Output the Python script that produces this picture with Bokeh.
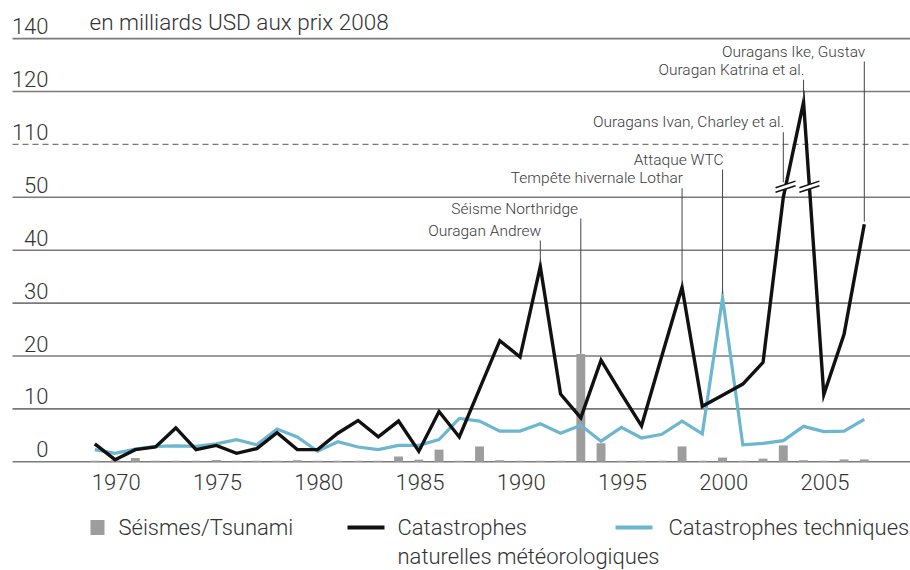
from bokeh.plotting import figure
from bokeh.models import Range1d
from bokeh.core.properties import value
from bokeh.embed import file_html
from bokeh.resources import INLINE

# ---------------- data (billions USD, 2008 prices) ----------------
years = list(range(1970, 2009))
weather = [3.4, 0.4, 2.3, 2.8, 6.4, 2.3, 3.1, 1.6, 2.5, 5.5,
           2.3, 2.3, 5.4, 7.8, 4.7, 7.7, 2.0, 9.5, 4.7, 13.8,
           22.9, 19.8, 36.9, 12.8, 8.3, 19.2, 12.9, 6.8, 20.0, 33.0,
           10.5, 12.6, 14.7, 18.8, 50.0, 118.0, 12.7, 24.1, 44.9]
technical = [2.3, 1.6, 2.4, 2.9, 3.0, 2.9, 3.4, 4.2, 3.2, 6.2,
             4.7, 2.0, 3.8, 2.8, 2.3, 3.1, 3.1, 4.2, 8.2, 7.7,
             5.8, 5.8, 7.2, 5.4, 6.9, 3.9, 6.5, 4.5, 5.2, 7.7,
             5.3, 31.0, 3.2, 3.5, 4.0, 6.7, 5.7, 5.8, 8.0]
quakes = [0.2, 0.3, 0.7, 0.2, 0.2, 0.2, 0.35, 0.2, 0.2, 0.2,
          0.3, 0.2, 0.2, 0.2, 0.2, 1.0, 0.4, 2.3, 0.2, 2.9,
          0.3, 0.2, 0.2, 0.2, 20.4, 3.5, 0.2, 0.2, 0.2, 2.9,
          0.2, 0.8, 0.2, 0.6, 3.1, 0.3, 0.2, 0.45, 0.45]

y_tick_values = [0, 10, 20, 30, 40, 50, 110, 120, 140]
y_tick_labels = ["0", "10", "20", "30", "40", "50", "110", "120", "140"]
dashed_tick = 110
x_tick_values = [1970, 1975, 1980, 1985, 1990, 1995, 2000, 2005]
x_tick_labels = ["1970", "1975", "1980", "1985", "1990", "1995", "2000", "2005"]

title_text = "en milliards USD aux prix 2008"
legend_labels = ["Séismes/Tsunami", "Catastrophes\nnaturelles météorologiques",
                 "Catastrophes techniques"]

ann_labels = ["Ouragan Andrew", "Séisme  Northridge", "Tempête hivernale Lothar",
              "Attaque WTC", "Ouragans Ivan, Charley et al.",
              "Ouragan Katrina et al.", "Ouragans Ike, Gustav"]
ann_years = [1992, 1994, 1999, 2001, 2004, 2005, 2008]
ann_series = ["weather", "quakes", "weather", "technical", "weather", "weather", "weather"]

# ---------------- layout / style ----------------
XPX, X0PX = 20.25, 94.3      # px per year, page x of 1970
YPX, Y0PX = 52.9, 461.3      # px per axis band, page y of 0
W, H = 910, 570

ann_text_y = [230, 208, 177.7, 159, 121.7, 69.3, 51]   # page px (text centre)
ann_gap = [4, 0, 2, 4, 15, 2, 2.6]                       # px gap above data point

BLACK = "#111111"
BLUE = "#6cb6cf"
GREY = "#9d9d9d"
GRID = "#7a7a7a"
TXT = "#333333"
FONT = value("Roboto Light, Roboto")


def disp(v):
    """broken axis: 0-50 linear, 50->110 compressed, 110-120, 120-140"""
    if v <= 50:
        return v / 10.0
    if v <= 110:
        return 5 + (v - 50) / 60.0
    if v <= 120:
        return 6 + (v - 110) / 10.0
    return 7 + (v - 120) / 20.0


def xd(px):
    return 1970 + (px - X0PX) / XPX


def yd(py):
    return (Y0PX - py) / YPX


p = figure(width=W, height=H, output_backend="svg", toolbar_location=None,
           x_range=Range1d(xd(0), xd(W)), y_range=Range1d(yd(H), yd(0)),
           x_axis_type=None, y_axis_type=None, min_border=0)
p.outline_line_color = None
p.xgrid.visible = False
p.ygrid.visible = False
p.background_fill_color = "white"

# grid lines
x_left, x_right = xd(12), xd(W)
solid = [disp(v) for v in y_tick_values if v != dashed_tick]
dash = [disp(v) for v in y_tick_values if v == dashed_tick]
p.segment(x0=[x_left] * len(solid), y0=solid, x1=[x_right] * len(solid), y1=solid,
          line_color=GRID, line_width=1.6)
p.segment(x0=[x_left] * len(dash), y0=dash, x1=[x_right] * len(dash), y1=dash,
          line_color=GRID, line_width=1.3, line_dash="6 4")

# y tick labels (above gridlines, right aligned)
p.text(x=[xd(48)] * len(y_tick_values), y=[disp(v) + 12.5 / YPX for v in y_tick_values],
       text=y_tick_labels, text_align="right", text_baseline="middle",
       text_font=FONT, text_font_size="22px", text_color=TXT)

# title
p.text(x=[xd(89)], y=[yd(21.5)], text=[title_text], text_align="left",
       text_baseline="middle", text_font=FONT, text_font_size="22.5px", text_color=TXT)

# x tick labels
p.text(x=x_tick_values, y=[yd(481.7)] * len(x_tick_values), text=x_tick_labels,
       text_align="left", text_baseline="middle", x_offset=-3,
       text_font=FONT, text_font_size="22px", text_color=TXT)

# bars
p.vbar(x=years, top=[disp(v) for v in quakes], bottom=0, width=0.44,
       fill_color=GREY, line_color=None)

# lines
p.line(years, [disp(v) for v in technical], line_color=BLUE, line_width=3.2,
       line_join="miter")
wd = [disp(v) for v in weather]
p.line(years, wd, line_color=BLACK, line_width=3.4, line_join="miter")

# axis-break marks where the black line crosses the 50 -> 110 gap
BREAK_LEVEL = 5.2
dx, dyh, off = 10 / XPX, 3.3 / YPX, 2.3 / YPX
bx, by = [], []
for i in range(len(wd) - 1):
    a, b = wd[i], wd[i + 1]
    if (a - 5.5) * (b - 5.5) < 0 and max(a, b) > 6:
        t = (BREAK_LEVEL - a) / (b - a)
        bx.append(years[i] + t)
        by.append(BREAK_LEVEL)
p.segment(x0=[x - dx * 0.85 for x in bx], y0=[y - dyh * 0.85 for y in by],
          x1=[x + dx * 0.85 for x in bx], y1=[y + dyh * 0.85 for y in by],
          line_color="white", line_width=4.6)
for s in (off, -off):
    p.segment(x0=[x - dx for x in bx], y0=[y - dyh + s for y in by],
              x1=[x + dx for x in bx], y1=[y + dyh + s for y in by],
              line_color=BLACK, line_width=1.5)

# annotations
series = {"weather": weather, "technical": technical, "quakes": quakes}
ann_vals = [series[s][years.index(y)] for s, y in zip(ann_series, ann_years)]
p.segment(x0=ann_years, y0=[yd(ty + 10) for ty in ann_text_y],
          x1=ann_years, y1=[disp(v) + g / YPX for v, g in zip(ann_vals, ann_gap)],
          line_color="#444444", line_width=1)
p.text(x=ann_years, y=[yd(ty) for ty in ann_text_y], text=ann_labels,
       text_align="right", text_baseline="middle", x_offset=1,
       text_font=FONT, text_font_size="15.5px", text_color="#3a3a3a")

# legend (drawn below the plot)
LY = 527
p.rect(x=[xd(97)], y=[yd(LY)], width=14 / XPX, height=15 / YPX,
       fill_color=GREY, line_color=None)
p.segment(x0=[xd(347)], y0=[yd(LY)], x1=[xd(384)], y1=[yd(LY)],
          line_color=BLACK, line_width=4)
p.segment(x0=[xd(615)], y0=[yd(LY)], x1=[xd(652)], y1=[yd(LY)],
          line_color=BLUE, line_width=4)
leg_x = [118, 397, 668]
for lx, lab in zip(leg_x, legend_labels):
    for k, line in enumerate(lab.split("\n")):
        p.text(x=[xd(lx)], y=[yd(LY + 29 * k)], text=[line], text_align="left",
               text_baseline="middle", text_font=FONT, text_font_size="22px",
               text_color=TXT)

open("out.html", "w").write(file_html(p, INLINE))
